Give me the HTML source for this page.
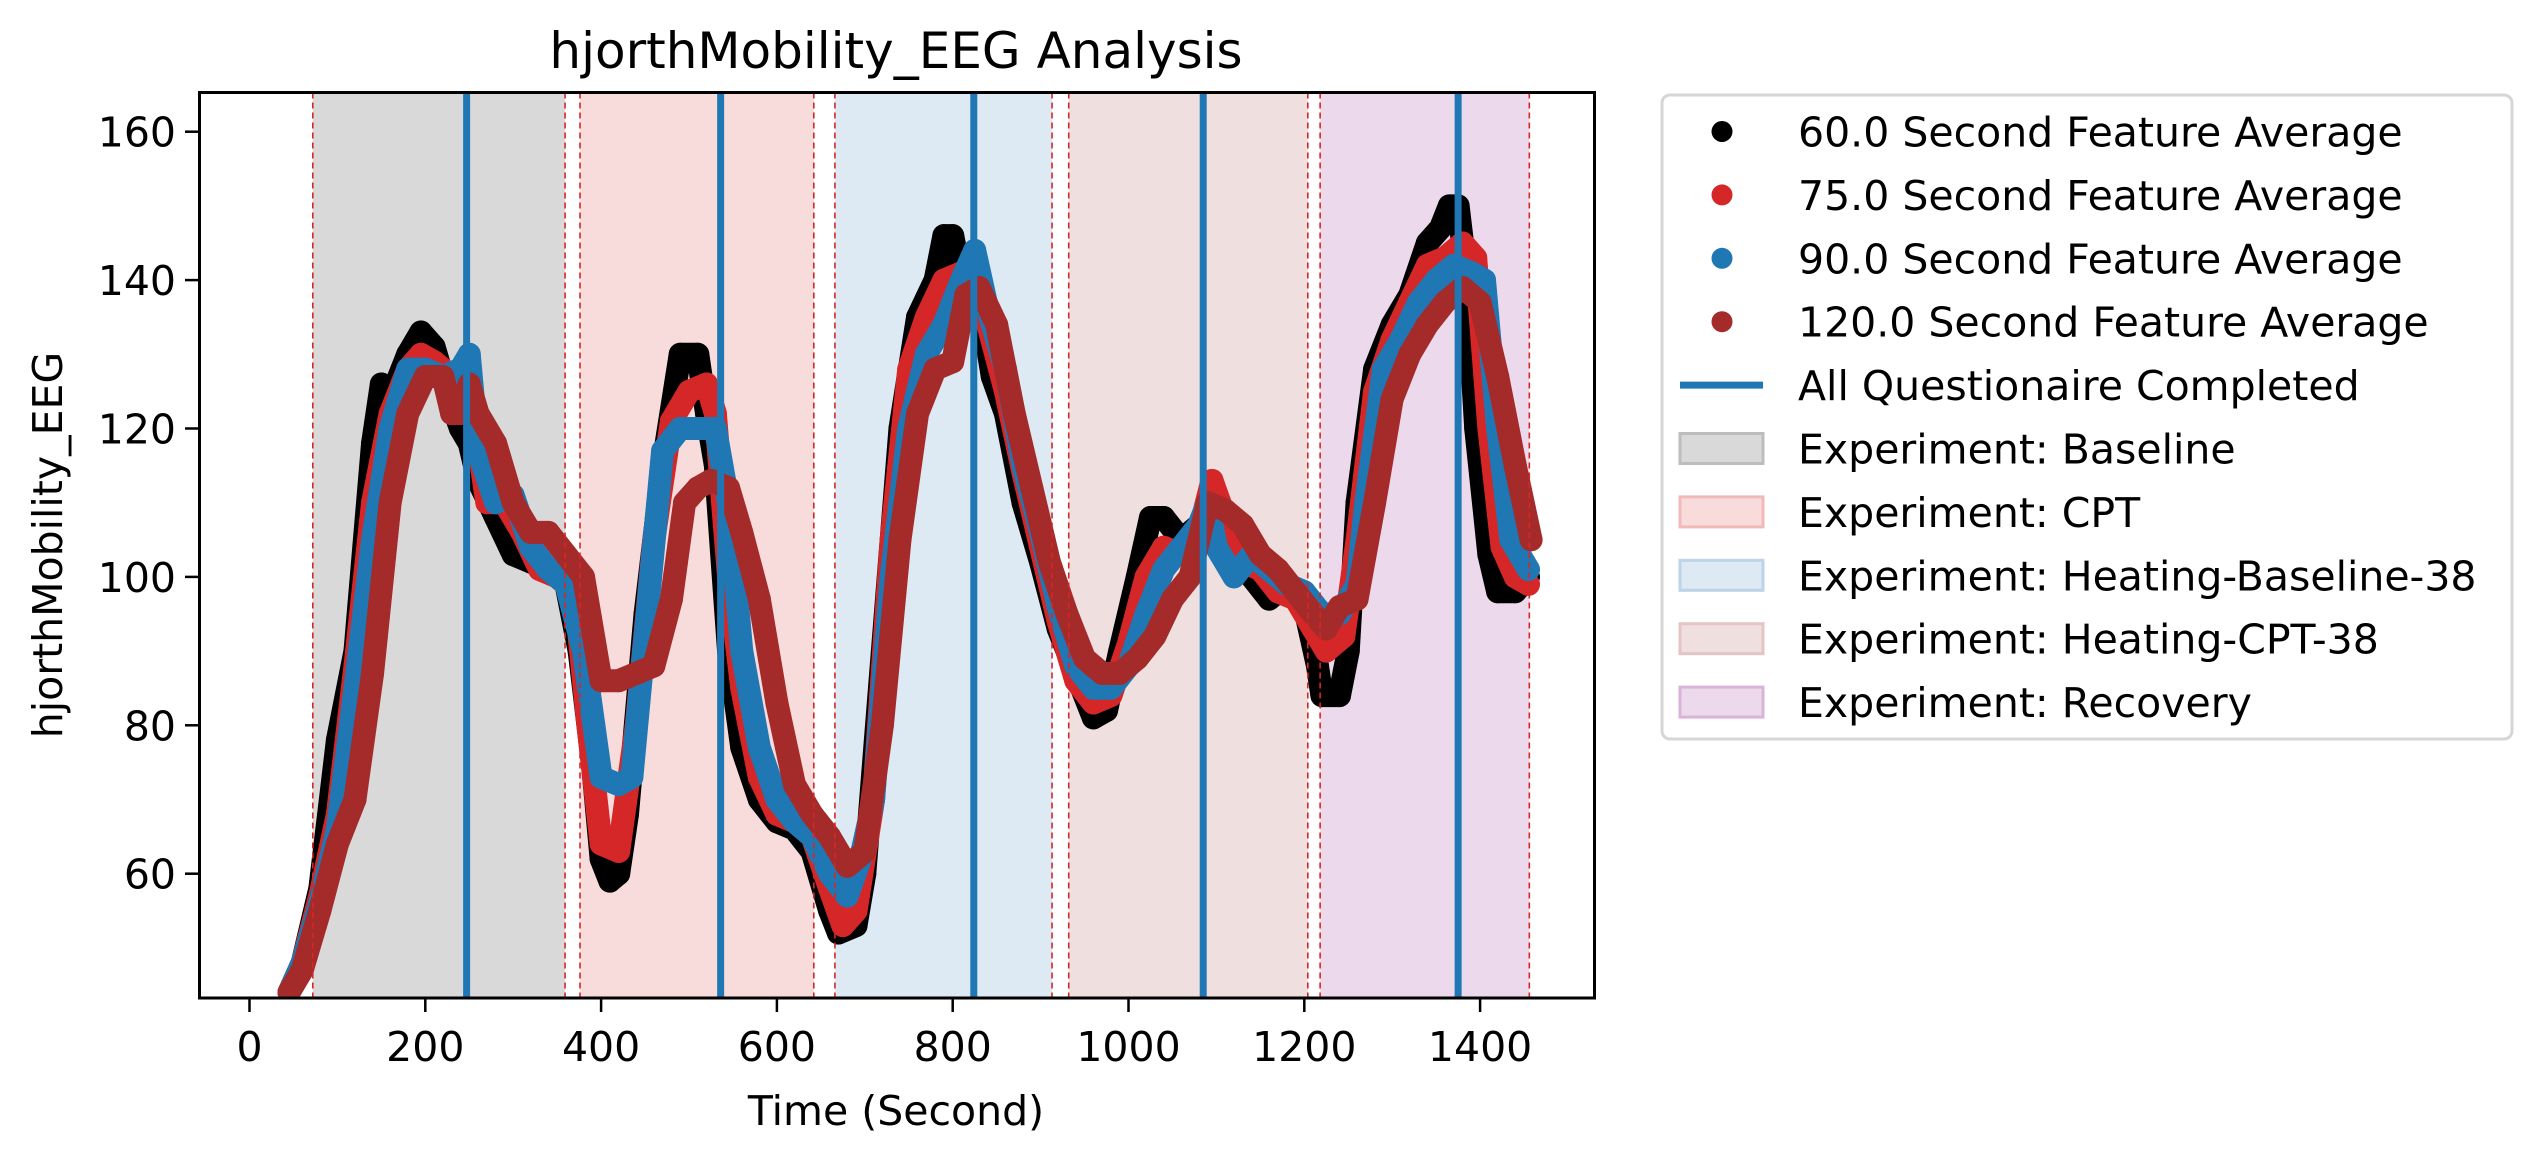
<!DOCTYPE html>
<html><head><meta charset="utf-8"><style>
html,body{margin:0;padding:0;background:#fff;}
svg{display:block;font-family:"DejaVu Sans","Liberation Sans",sans-serif;}
</style></head><body>
<svg id="chart" width="2531" height="1158" viewBox="0 0 2531 1158">
<g id="spans"></g>
<g id="series"></g>
<g id="vlines"></g>
<rect x="199.5" y="92.5" width="1395" height="905.5" fill="none" stroke="#000" stroke-width="3"/>
<g id="axes"></g>
<text x="896" y="68" font-size="50" text-anchor="middle">hjorthMobility_EEG Analysis</text>
<text x="896" y="1125" font-size="41" text-anchor="middle">Time (Second)</text>
<text x="0" y="0" font-size="41" text-anchor="middle" transform="translate(62,545) rotate(-90)">hjorthMobility_EEG</text>
<g id="legend">
<rect x="1662" y="95" width="850" height="644" rx="8" fill="#fff" stroke="#d6d6d6" stroke-width="3"/>
</g>
</svg>
<script>
const xTicks = [0,200,400,600,800,1000,1200,1400];
const yTicks = [60,80,100,120,140,160];
const qLines = [247,536,824,1085,1375];
const spanStarts = [72,376,666,932,1218];
const spanEnds = [359,642,913,1204,1456];
const spanFills = ['#d9d9d9','#f8dcdc','#dde9f3','#f0dfdf','#ecd9ec'];
const spanLabels = ['Experiment: Baseline','Experiment: CPT','Experiment: Heating-Baseline-38','Experiment: Heating-CPT-38','Experiment: Recovery'];
const spanEdges = ['#bdbdbd','#f1b9b9','#bcd3e8','#e4c4c4','#d9b3d9'];

const s60x = [45,60,80,100,120,140,150,160,180,195,210,225,240,250,260,280,300,320,340,360,375,390,400,410,420,430,450,470,490,510,520,530,545,560,580,600,620,640,660,670,690,700,720,740,760,780,790,800,810,830,845,860,880,900,920,940,960,975,990,1010,1025,1040,1060,1080,1100,1120,1140,1160,1180,1200,1215,1220,1240,1250,1260,1280,1300,1320,1340,1355,1365,1375,1385,1395,1410,1420,1440,1455];
const s60y = [44,48,58,78,90,118,126,124,130,133,131,125,120,118,113,108,103,102,101,99,90,75,62,59,60,68,95,115,130,130,122,115,90,77,70,67,66,63,55,52,53,60,90,120,135,140,146,146,140,138,127,122,110,102,93,87,81,82,90,100,108,108,105,107,109,105,100,97,99,96,88,84,84,90,110,128,134,138,145,147,150,150,140,120,103,98,98,100];
const s75x = [45,60,80,100,120,140,160,180,195,210,230,245,260,270,290,310,330,350,370,385,400,420,440,460,480,500,520,530,545,560,580,600,620,640,660,675,690,710,730,750,770,790,810,825,840,860,880,900,920,940,960,980,1000,1020,1040,1060,1080,1095,1110,1130,1150,1170,1190,1210,1225,1245,1260,1280,1300,1320,1340,1360,1380,1395,1410,1425,1440,1455];
const s75y = [44,48,57,68,88,110,122,128,130,129,127,128,118,110,110,106,101,100,98,80,64,63,80,105,121,125,126,122,100,85,73,68,67,65,58,53,55,70,105,128,135,140,141,142,134,125,114,104,94,86,83,84,91,100,104,103,106,113,108,102,101,98,97,93,90,92,105,125,132,137,142,143,145,143,120,104,100,99];
const s90x = [45,60,80,100,120,140,160,180,200,220,240,250,260,280,300,320,340,360,380,400,420,435,450,470,490,510,530,545,560,580,600,620,640,660,680,695,710,730,750,770,790,810,825,840,860,880,900,920,940,960,980,1000,1020,1040,1060,1080,1090,1100,1120,1140,1160,1180,1200,1220,1240,1260,1270,1290,1310,1330,1350,1370,1390,1405,1420,1435,1455];
const s90y = [44,48,56,66,85,105,120,128,128,127,128,130,117,110,111,104,101,99,90,73,72,73,92,117,120,120,120,110,90,77,70,67,65,60,57,62,70,100,120,130,134,140,144,136,128,115,106,96,88,85,85,88,95,101,104,107,110,104,100,103,101,99,98,95,95,99,110,128,132,137,140,142,141,140,120,105,101];
const s120x = [45,60,80,100,120,140,160,180,200,220,230,240,250,260,280,300,320,340,360,380,400,420,440,460,480,495,510,525,545,560,580,600,620,640,660,680,700,720,740,760,780,800,815,830,850,870,890,910,930,950,970,990,1010,1030,1050,1070,1090,1110,1130,1150,1170,1190,1210,1225,1240,1260,1280,1300,1320,1340,1360,1380,1400,1420,1440,1458];
const s120y = [44,47,55,64,70,87,110,122,127,127,122,122,126,122,118,110,106,106,103,100,86,86,87,88,97,110,112,113,112,106,97,83,72,68,65,61,63,80,105,122,128,129,138,139,134,122,112,102,95,89,87,87,89,92,97,100,110,109,107,103,101,98,95,93,96,97,110,124,130,134,137,139,137,127,115,105];

const NS='http://www.w3.org/2000/svg';
function X(v){return 249.5+0.879*v;}
function Y(v){return 131.7+7.42*(160-v);}
function mk(tag,attrs,parent){const e=document.createElementNS(NS,tag);for(const k in attrs)e.setAttribute(k,attrs[k]);parent.appendChild(e);return e;}
const TOP=92.5,BOT=998;
const spans=document.getElementById('spans');
for(let i=0;i<spanStarts.length;i++){
  const r=mk('rect',{x:X(spanStarts[i]),y:TOP,width:X(spanEnds[i])-X(spanStarts[i]),height:BOT-TOP,fill:spanFills[i]},spans);
  
  
}
const ser=document.getElementById('series');
const allSeries=[[s60x,s60y,'#000000','series-60s'],[s75x,s75y,'#d62728','series-75s'],[s90x,s90y,'#1f77b4','series-90s'],[s120x,s120y,'#a52a2a','series-120s']];
const clip=mk('clipPath',{id:'pc'},mk('defs',{},ser));
mk('rect',{x:199.5,y:92.5,width:1395,height:905.5},clip);
allSeries.forEach(s=>{
  const g=mk('g',{'clip-path':'url(#pc)'},ser);
  
  
  const pts=s[0].map((x,i)=>X(x)+','+Y(s[1][i])).join(' ');
  mk('polyline',{points:pts,fill:'none',stroke:s[2],'stroke-width':23,'stroke-linejoin':'round','stroke-linecap':'round'},g);
  s[0].forEach((x,i)=>{
    const c=mk('circle',{cx:X(x),cy:Y(s[1][i]),r:11.5,fill:s[2]},g);
    
    
  });
});
const vl=document.getElementById('vlines');
for(let i=0;i<spanStarts.length;i++){
  [spanStarts[i],spanEnds[i]].forEach(v=>{
    const l=mk('line',{x1:X(v),x2:X(v),y1:TOP,y2:BOT,stroke:'#d62728','stroke-width':1.6,'stroke-dasharray':'6,4'},vl);
    
    
  });
}
qLines.forEach(v=>{
  const l=mk('line',{x1:X(v),x2:X(v),y1:TOP,y2:BOT,stroke:'#1f77b4','stroke-width':7},vl);
  
  
});
const ax=document.getElementById('axes');
xTicks.forEach(v=>{
  mk('line',{x1:X(v),x2:X(v),y1:BOT,y2:BOT+14,stroke:'#000','stroke-width':2.5},ax);
  const t=mk('text',{x:X(v),y:1061,'font-size':41,'text-anchor':'middle'},ax);
  t.textContent=v;
  
  
});
yTicks.forEach(v=>{
  mk('line',{x1:185,x2:199.5,y1:Y(v),y2:Y(v),stroke:'#000','stroke-width':2.5},ax);
  const t=mk('text',{x:176,y:Y(v)+15,'font-size':41,'text-anchor':'end'},ax);
  t.textContent=v;
  
  
});
const lg=document.getElementById('legend');
const labels=['60.0 Second Feature Average','75.0 Second Feature Average','90.0 Second Feature Average','120.0 Second Feature Average'];
const cols=['#000000','#d62728','#1f77b4','#a52a2a'];
let rows=[];
for(let i=0;i<4;i++)rows.push(['pt',labels[i],cols[i]]);
rows.push(['line','All Questionaire Completed','#1f77b4']);
for(let i=0;i<5;i++)rows.push(['patch',spanLabels[i],spanFills[i],spanEdges[i]]);
rows.forEach((r,i)=>{
  const cy=131.5+63.4*i;
  const g=mk('g',{},lg);
  
  
  if(r[0]==='pt')mk('circle',{cx:1722,cy:cy,r:10.5,fill:r[2]},g);
  else if(r[0]==='line')mk('line',{x1:1680,x2:1763,y1:cy,y2:cy,stroke:r[2],'stroke-width':7},g);
  else mk('rect',{x:1680,y:cy-15,width:83,height:30,fill:r[2],stroke:r[3],'stroke-width':3},g);
  const t=mk('text',{x:1798,y:cy+15,'font-size':41},g);
  t.textContent=r[1];
});
</script>
</body></html>
